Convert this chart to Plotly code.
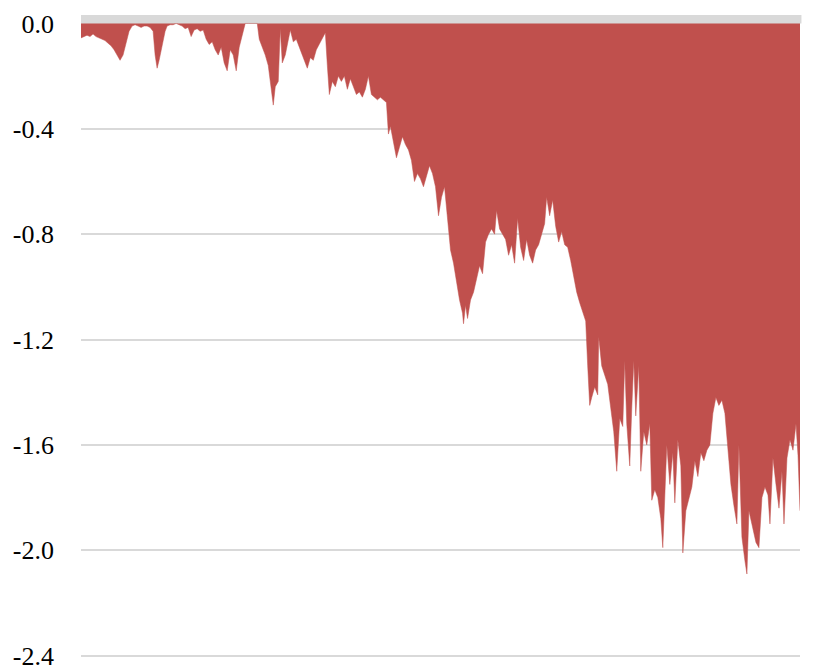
import plotly.graph_objects as go

# trading-day index of each sample
days = [0, 3, 6, 9, 12, 15, 18, 21, 24, 27, 30, 33, 36, 39, 42, 45, 48, 51, 54, 57,
        60, 63, 66, 69, 72, 74, 76, 78, 80, 82, 84, 86, 89, 92, 95, 98, 101, 104, 107, 110,
        113, 116, 119, 122, 125, 128, 131, 134, 137, 140, 143, 146, 149, 152, 155, 158, 161, 164, 167, 170,
        173, 176, 178, 181, 184, 187, 190, 192, 194, 197, 199, 201, 204, 207, 209, 212, 215, 218, 221, 224,
        226, 229, 232, 235, 238, 241, 244, 246, 248, 251, 254, 257, 260, 263, 266, 269, 272, 275, 278, 281,
        284, 287, 290, 293, 296, 299, 302, 305, 307, 309, 312, 315, 318, 321, 324, 327, 330, 333, 336, 339,
        342, 345, 348, 351, 354, 357, 360, 363, 366, 369, 372, 375, 378, 381, 382, 384, 386, 389, 392, 395,
        398, 401, 404, 407, 410, 413, 415, 418, 421, 424, 427, 430, 433, 436, 439, 442, 445, 448, 451, 454,
        457, 460, 463, 465, 468, 471, 474, 477, 480, 483, 486, 489, 492, 495, 498, 501, 504, 506, 508, 510,
        513, 516, 517, 520, 523, 526, 529, 532, 535, 538, 541, 543, 545, 548, 550, 552, 554, 557, 559, 562,
        565, 568, 570, 573, 576, 579, 581, 583, 585, 588, 591, 593, 596, 599, 601, 604, 607, 610, 613, 616,
        619, 622, 625, 628, 631, 634, 637, 640, 643, 646, 649, 652, 655, 657, 660, 663, 665, 667, 671, 674,
        677, 680, 683, 686, 688, 691, 694, 697, 700, 702, 705, 708, 711, 714, 716, 718]

drawdown = [-0.055, -0.05, -0.045, -0.05, -0.04, -0.05, -0.055, -0.06, -0.065, -0.075,
            -0.085, -0.10, -0.12, -0.14, -0.12, -0.08, -0.03, -0.01, -0.005, -0.01,
            -0.015, -0.01, -0.01, -0.015, -0.03, -0.12, -0.17, -0.14, -0.10, -0.06,
            -0.03, -0.01, -0.005, -0.005, 0.0, -0.005, -0.01, -0.02, -0.015, -0.05,
            -0.025, -0.02, -0.03, -0.025, -0.06, -0.08, -0.07, -0.10, -0.12, -0.09,
            -0.15, -0.18, -0.10, -0.12, -0.18, -0.09, -0.05, 0.0, 0.0, 0.0,
            0.0, 0.0, -0.06, -0.09, -0.12, -0.16, -0.24, -0.31, -0.24, -0.22,
            -0.02, -0.15, -0.12, -0.06, -0.025, -0.07, -0.06, -0.09, -0.12, -0.15,
            -0.17, -0.13, -0.14, -0.10, -0.08, -0.06, -0.035, -0.16, -0.27, -0.22,
            -0.24, -0.20, -0.22, -0.20, -0.25, -0.21, -0.24, -0.27, -0.26, -0.28,
            -0.25, -0.20, -0.27, -0.28, -0.29, -0.28, -0.29, -0.30, -0.42, -0.39,
            -0.45, -0.51, -0.47, -0.43, -0.46, -0.48, -0.52, -0.60, -0.57, -0.59,
            -0.62, -0.58, -0.54, -0.57, -0.62, -0.73, -0.66, -0.62, -0.74, -0.86,
            -0.91, -0.98, -1.05, -1.10, -1.14, -1.07, -1.12, -1.05, -1.02, -0.97,
            -0.92, -0.95, -0.83, -0.80, -0.78, -0.80, -0.71, -0.78, -0.80, -0.82,
            -0.88, -0.84, -0.91, -0.74, -0.85, -0.90, -0.82, -0.88, -0.91, -0.86,
            -0.84, -0.80, -0.76, -0.66, -0.73, -0.67, -0.77, -0.83, -0.79, -0.84,
            -0.85, -0.90, -0.96, -1.02, -1.06, -1.10, -1.13, -1.30, -1.45, -1.42,
            -1.38, -1.41, -1.19, -1.30, -1.34, -1.37, -1.46, -1.55, -1.70, -1.50,
            -1.53, -1.28, -1.52, -1.68, -1.46, -1.28, -1.49, -1.30, -1.70, -1.55,
            -1.60, -1.52, -1.81, -1.77, -1.80, -1.88, -1.99, -1.80, -1.60, -1.75,
            -1.63, -1.82, -1.58, -1.68, -2.01, -1.85, -1.80, -1.76, -1.66, -1.72,
            -1.63, -1.66, -1.62, -1.60, -1.48, -1.42, -1.45, -1.43, -1.48, -1.62,
            -1.75, -1.83, -1.90, -1.60, -1.95, -2.04, -2.09, -1.85, -1.92, -1.97,
            -1.99, -1.80, -1.76, -1.79, -1.90, -1.65, -1.75, -1.84, -1.70, -1.90,
            -1.65, -1.58, -1.62, -1.52, -1.64, -1.85]

tick_vals = [0.0, -0.4, -0.8, -1.2, -1.6, -2.0, -2.4]
tick_text = ["0.0", "-0.4", "-0.8", "-1.2", "-1.6", "-2.0", "-2.4"]

n = min(len(days), len(drawdown))
days = days[:n]
drawdown = drawdown[:n]

fig = go.Figure()
fig.add_trace(go.Scatter(
    x=days, y=drawdown, mode="lines", fill="tozeroy",
    line=dict(color="#C0504D", width=0.5),
    fillcolor="#C0504D", hoverinfo="skip", showlegend=False,
))

fig.add_shape(type="rect", xref="paper", yref="y", x0=0, x1=1.002, y0=0, y1=0.032,
              fillcolor="#D9D9D9", line=dict(width=0), layer="below")

# page body adds an 8px offset; the figure size/margins compensate for it
fig.update_layout(
    width=807, height=659,
    margin=dict(l=73, r=15, t=7, b=10, autoexpand=False),
    paper_bgcolor="white", plot_bgcolor="white",
    font=dict(family="Liberation Serif", size=26, color="#000000"),
    xaxis=dict(visible=False, range=[days[0], days[-1]], automargin=False),
    yaxis=dict(range=[-2.405, 0.032], tickvals=tick_vals, ticktext=tick_text,
               showgrid=True, gridcolor="#D9D9D9", gridwidth=2, automargin=False,
               zeroline=False, showline=False, ticks="", ticklabelstandoff=26,
               ticklabeloverflow="allow"),
)

fig.write_html("out.html")
